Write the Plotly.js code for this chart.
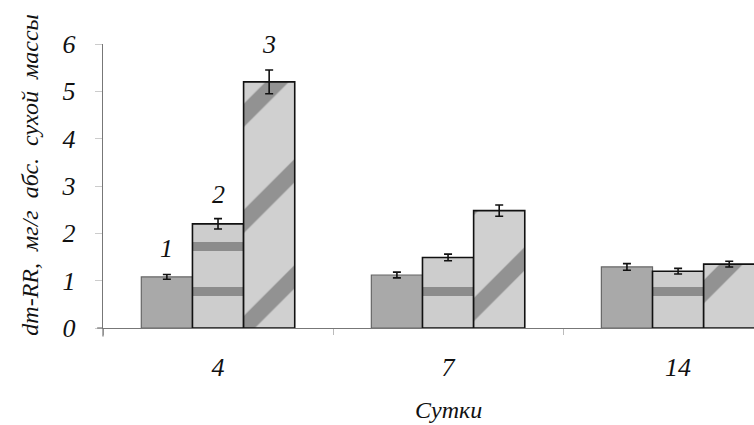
<!DOCTYPE html>
<html>
<head>
<meta charset="utf-8">
<script src="https://cdn.plot.ly/plotly-3.0.1.min.js"></script>
<style>html,body{margin:0;padding:0;background:#fff;}#chart{width:754px;height:425px;}</style>
</head>
<body>
<div id="chart"></div>
<script>
const days = ["4", "7", "14"];
const series1 = [1.08, 1.12, 1.29];
const series1Err = [0.05, 0.06, 0.07];
const series2 = [2.20, 1.49, 1.20];
const series2Err = [0.11, 0.07, 0.06];
const series3 = [5.20, 2.48, 1.35];
const series3Err = [0.25, 0.12, 0.06];
const seriesLabels = ["1", "2", "3"];
const labelHeights = [1.69, 2.83, 6.0];
const yTicks = [0, 1, 2, 3, 4, 5, 6];

const serif = "Liberation Serif, DejaVu Serif, serif";
const errStyle = v => ({type: "data", array: v, visible: true, color: "#111", thickness: 1.6, width: 4});

const traces = [
  {type: "bar", x: days, y: series1, error_y: errStyle(series1Err),
   marker: {color: "#a9a9a9", line: {color: "#666", width: 1.2}}},
  {type: "bar", x: days, y: series2, error_y: errStyle(series2Err),
   marker: {color: "#cbcbcb", line: {color: "#111", width: 1.6},
            pattern: {shape: "-", bgcolor: "#cdcdcd", fgcolor: "#8c8c8c", size: 45, solidity: 0.2}}},
  {type: "bar", x: days, y: series3, error_y: errStyle(series3Err),
   marker: {color: "#cdcdcd", line: {color: "#111", width: 1.6},
            pattern: {shape: "/", bgcolor: "#d0d0d0", fgcolor: "#929292", size: 75, solidity: 0.22}}}
];

const offsets = [-0.222, 0, 0.222];
const annotations = seriesLabels.map((t, i) => ({
  x: offsets[i], y: labelHeights[i], xref: "x", yref: "y", text: t, showarrow: false,
  xanchor: "center", yanchor: "middle",
  font: {family: serif, size: 26, color: "#111", style: "italic"}
}));
annotations.push({
  x: (30 - 103) / 651, y: 0.54, xref: "paper", yref: "paper", textangle: -90, showarrow: false,
  xanchor: "center", yanchor: "middle",
  text: "dm-RR,  мг/г  абс.  сухой  массы",
  font: {family: serif, size: 24, color: "#111", style: "italic"}
});
annotations.push({
  x: 1, y: -0.289, xref: "x", yref: "paper", text: "Сутки", showarrow: false,
  xanchor: "center", yanchor: "middle",
  font: {family: serif, size: 24, color: "#111", style: "italic"}
});

const layout = {
  width: 754, height: 425,
  margin: {l: 103, r: 0, t: 44, b: 97},
  paper_bgcolor: "#fff", plot_bgcolor: "#fff",
  showlegend: false,
  barmode: "group", bargap: 0.333, bargroupgap: 0,
  xaxis: {type: "category", range: [-0.5, 2.33], showline: true, linecolor: "#777", linewidth: 1.2,
          ticks: "outside", tickson: "boundaries", ticklen: 6, tickcolor: "#bbb",
          showgrid: false, zeroline: false, ticklabelstandoff: 16,
          tickfont: {family: serif, size: 26, color: "#111", style: "italic"}},
  yaxis: {range: [0, 6], tickvals: yTicks, showline: true, linecolor: "#777", linewidth: 1.2,
          ticks: "outside", ticklen: 7, tickcolor: "#ccc", showgrid: false, zeroline: false,
          ticklabelstandoff: 14,
          tickfont: {family: serif, size: 26, color: "#111", style: "italic"}},
  shapes: [{type: "line", xref: "paper", yref: "paper", x0: 0, x1: 0, y0: -0.03, y1: 0,
            line: {color: "#777", width: 1.2}},
           {type: "line", xref: "paper", yref: "paper", x0: -0.009, x1: 0, y0: 0, y1: 0,
            line: {color: "#777", width: 1.2}}],
  annotations: annotations
};

Plotly.newPlot("chart", traces, layout, {displayModeBar: false, staticPlot: true});
</script>
</body>
</html>
